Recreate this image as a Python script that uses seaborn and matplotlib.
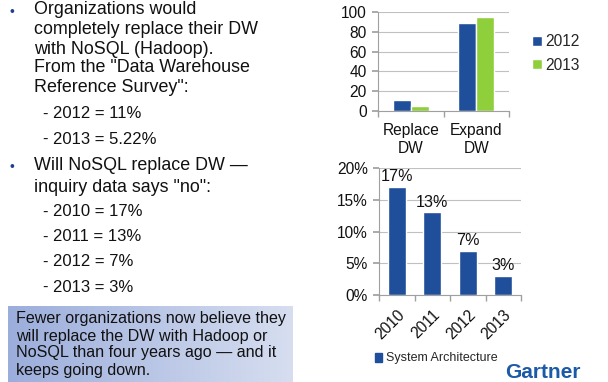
import numpy as np
import pandas as pd
import matplotlib
matplotlib.use("Agg")
import matplotlib.pyplot as plt
from matplotlib.patches import Patch
import seaborn as sns

# data
survey_categories = ["Replace\nDW", "Expand\nDW"]
survey_years = ["2012", "2013"]
survey_2012 = [11, 89]
survey_2013 = [5.22, 95]

inquiry_years = ["2010", "2011", "2012", "2013"]
inquiry_values = [17, 13, 7, 3]
inquiry_labels = ["17%", "13%", "7%", "3%"]
pct_ticks = [0, 5, 10, 15, 20]
pct_tick_labels = ["0%", "5%", "10%", "15%", "20%"]

navy = "#1f4e9b"
green = "#8fcf3c"
grid_grey = "#c0c0c0"

sns.set_theme(style="white")
plt.rcParams["font.family"] = ["Liberation Sans", "DejaVu Sans"]

W, H = 608, 382
fig = plt.figure(figsize=(W / 100, H / 100), dpi=100)


def px(x, y):
    return x / W, 1 - y / H


def ax_rect(x0, y0, x1, y1):
    return [x0 / W, 1 - y1 / H, (x1 - x0) / W, (y1 - y0) / H]


# left text block
bullet_lines = [
    (10, "Organizations would"),
    (30, "completely replace their DW"),
    (49, "with NoSQL (Hadoop)."),
    (68, "From the \"Data Warehouse"),
    (88, "Reference Survey\":"),
    (165, "Will NoSQL replace DW \u2014"),
    (187, "inquiry data says \"no\":"),
]
for y, s in bullet_lines:
    fig.text(*px(34, y), s, fontsize=12.9, va="center", ha="left", color="#111111")
for y in (12, 167):
    fig.text(*px(12, y), "\u2022", fontsize=10, va="center", ha="center", color="#1f3f8f")

sub_lines = [(114, "2012 = 11%"), (139, "2013 = 5.22%"),
             (212, "2010 = 17%"), (237, "2011 = 13%"),
             (262, "2012 = 7%"), (287, "2013 = 3%")]
for y, s in sub_lines:
    fig.text(*px(42, y), "-", fontsize=12, va="center", ha="left", color="#111111")
    fig.text(*px(53, y), s, fontsize=12, va="center", ha="left", color="#111111")

# gradient box
box_ax = fig.add_axes(ax_rect(8, 306, 293, 382))
grad = np.linspace(0, 1, 256).reshape(1, -1)
c0 = np.array([0.61, 0.68, 0.86])
c1 = np.array([0.84, 0.87, 0.94])
img = c0[None, None, :] * (1 - grad[..., None]) + c1[None, None, :] * grad[..., None]
box_ax.imshow(img, aspect="auto", extent=[0, 1, 0, 1])
box_ax.set_axis_off()
box_lines = [(318, "Fewer organizations now believe they"),
             (336, "will replace the DW with Hadoop or"),
             (353, "NoSQL than four years ago \u2014 and it"),
             (371, "keeps going down.")]
for y, s in box_lines:
    fig.text(*px(16, y), s, fontsize=11.6, va="center", ha="left", color="#111111")


def style_axis(ax):
    for side in ("top", "right"):
        ax.spines[side].set_visible(False)
    for side in ("left", "bottom"):
        ax.spines[side].set_color("#a0a0a0")
        ax.spines[side].set_linewidth(0.8)
    ax.yaxis.grid(True, color=grid_grey, linewidth=0.8)
    ax.set_axisbelow(True)
    ax.set_xlabel("")
    ax.set_ylabel("")
    ax.tick_params(axis="y", length=4, color="#a0a0a0", pad=4, labelsize=11.2,
                   left=True, labelcolor="#111111")
    ax.tick_params(axis="x", which="major", length=0, labelsize=11.2, pad=9,
                   labelcolor="#111111")
    ax.tick_params(axis="x", which="minor", length=4, color="#a0a0a0", bottom=True)


# top chart
ax1 = fig.add_axes(ax_rect(378, 12, 509, 111))
df_top = pd.DataFrame({
    "category": survey_categories * 2,
    "year": [survey_years[0]] * 2 + [survey_years[1]] * 2,
    "value": survey_2012 + survey_2013,
})
sns.barplot(data=df_top, x="category", y="value", hue="year",
            palette=[navy, green], width=0.55, saturation=1, ax=ax1)
ax1.set_ylim(0, 100)
ax1.set_xlim(-0.5, 1.5)
ax1.set_yticks(range(0, 101, 20))
ax1.set_xticks([-0.5, 0.5, 1.5], minor=True)
style_axis(ax1)
for lab in ax1.get_xticklabels():
    lab.set_linespacing(1.2)
ax1.legend(loc="center left", bbox_to_anchor=(1.12, 0.58), frameon=False,
           fontsize=11.2, handlelength=0.6, handleheight=0.6,
           handletextpad=0.2, labelspacing=0.55, borderpad=0)

# bottom chart
ax2 = fig.add_axes(ax_rect(379, 168, 521, 295))
sns.barplot(x=inquiry_years, y=inquiry_values, color=navy, width=0.5,
            saturation=1, ax=ax2)
ax2.set_ylim(0, 20)
ax2.set_xlim(-0.5, 3.5)
ax2.set_yticks(pct_ticks)
ax2.set_yticklabels(pct_tick_labels)
ax2.set_xticks([-0.5, 0.5, 1.5, 2.5, 3.5], minor=True)
style_axis(ax2)
ax2.bar_label(ax2.containers[0], labels=inquiry_labels, padding=2,
              fontsize=11.6, color="#111111")
for lab in ax2.get_xticklabels():
    lab.set_rotation(45)
    lab.set_ha("right")
    lab.set_rotation_mode("anchor")
ax2.tick_params(axis="x", which="major", pad=9)
ax2.legend(handles=[Patch(color=navy, label="System Architecture")],
           loc="center left", bbox_to_anchor=(-0.075, -0.5), frameon=False,
           fontsize=9, handlelength=0.6, handleheight=0.7,
           handletextpad=0.3, borderpad=0)

fig.text(*px(581, 373), "Gartner", fontsize=15, fontweight="bold",
         ha="right", va="center", color="#1b5aa6")

fig.savefig("out.png", dpi=100)
